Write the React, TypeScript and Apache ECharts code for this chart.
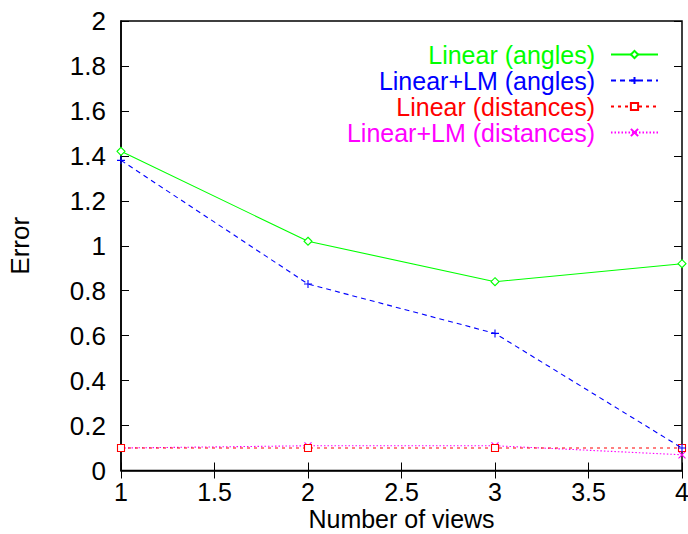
import React, { useEffect, useRef } from "react";
import * as echarts from "echarts";

const views = [1, 2, 3, 4];
const linearAngles = [1.42, 1.02, 0.84, 0.92];
const linearLMAngles = [1.38, 0.83, 0.61, 0.1];
const linearDistances = [0.1, 0.1, 0.1, 0.1];
const linearLMDistances = [0.1, 0.11, 0.11, 0.07];

const seriesNames = [
  "Linear (angles)",
  "Linear+LM (angles)",
  "Linear (distances)",
  "Linear+LM (distances)",
];
const colors = ["#00ff00", "#0000ff", "#ff0000", "#ff00ff"];

const FONT = "Liberation Sans";
const FS = 26;
const PLUS = "path://M0,5L10,5M5,0L5,10";
const CROSS = "path://M0,0L10,10M10,0L0,10";

export default function App() {
  const ref = useRef<HTMLDivElement>(null);
  useEffect(() => {
    const chart = echarts.init(ref.current!, null, { renderer: "svg" });
    const valuesList = [linearAngles, linearLMAngles, linearDistances, linearLMDistances];
    const lineTypes: any[] = ["solid", [5, 4], [3, 4], [1.5, 2]];
    const symbols = ["diamond", PLUS, "rect", CROSS];
    const symbolSizes = [8, 8, 7, 7];
    const series = valuesList.map((vals, i) => ({
      name: seriesNames[i],
      type: "line",
      data: views.map((v, j) => [v, vals[j]]),
      symbol: symbols[i],
      symbolSize: symbolSizes[i],
      showAllSymbol: true,
      lineStyle: { color: colors[i], width: 1.1, type: lineTypes[i] },
      itemStyle: {
        color: i === 1 || i === 3 ? "none" : "#ffffff",
        borderColor: colors[i],
        borderWidth: 1.1,
      },
      emphasis: { disabled: true },
      z: 4 - i,
    }));
    const tickCommon = { inside: true, length: 8, lineStyle: { color: "#000", width: 1 } };
    chart.setOption({
      animation: false,
      textStyle: { fontFamily: FONT },
      grid: {
        left: 121,
        right: 6,
        top: 21,
        bottom: 63.5,
        outerBoundsMode: "none",
        containLabel: false,
        show: true,
        borderColor: "#000",
        borderWidth: 1.5,
        backgroundColor: "transparent",
      },
      legend: {
        orient: "vertical",
        right: 24,
        top: 37,
        align: "right",
        itemWidth: 47,
        itemHeight: 9,
        itemGap: 1,
        selectedMode: false,
        data: seriesNames.map((n, i) => ({
          name: n,
          textStyle: {
            color: colors[i],
            fontSize: 25,
            lineHeight: 25,
            fontFamily: FONT,
            padding: [0, 11, 0, 0],
          },
        })),
      },
      xAxis: [
        {
          type: "value",
          min: 1,
          max: 4,
          interval: 0.5,
          name: "Number of views",
          nameLocation: "middle",
          nameGap: 36,
          nameMoveOverlap: false,
          nameTextStyle: { fontSize: 25, lineHeight: 25, color: "#000", fontFamily: FONT },
          axisLine: { show: true, lineStyle: { color: "#000", width: 1.5 } },
          axisTick: tickCommon,
          axisLabel: { fontSize: 25, lineHeight: 25, color: "#000", margin: 9, fontFamily: FONT },
          splitLine: { show: false },
        },
        {
          type: "value",
          position: "top",
          min: 1,
          max: 4,
          interval: 0.5,
          axisLine: { show: false },
          axisTick: tickCommon,
          axisLabel: { show: false },
          splitLine: { show: false },
        },
      ],
      yAxis: [
        {
          type: "value",
          min: 0,
          max: 2,
          interval: 0.2,
          name: "Error",
          nameLocation: "middle",
          nameRotate: 90,
          nameGap: 88,
          nameMoveOverlap: false,
          nameTextStyle: { fontSize: FS, color: "#000", fontFamily: FONT },
          axisLine: { show: true, lineStyle: { color: "#000", width: 1.5 } },
          axisTick: tickCommon,
          axisLabel: { fontSize: FS, color: "#000", margin: 15, fontFamily: FONT },
          splitLine: { show: false },
        },
        {
          type: "value",
          position: "right",
          min: 0,
          max: 2,
          interval: 0.2,
          axisLine: { show: false },
          axisTick: tickCommon,
          axisLabel: { show: false },
          splitLine: { show: false },
        },
      ],
      series,
    });
    return () => chart.dispose();
  }, []);
  return <div ref={ref} style={{ width: 688, height: 534, position: "absolute", left: 0, top: 0 }} />;
}
